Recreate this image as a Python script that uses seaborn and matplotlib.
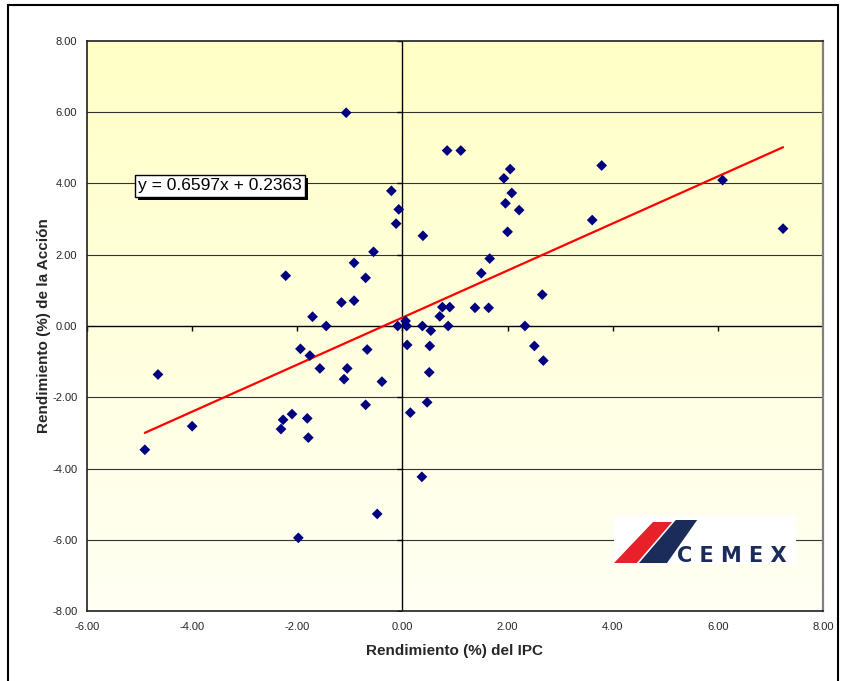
import numpy as np
import pandas as pd
import matplotlib
matplotlib.use("Agg")
import matplotlib.pyplot as plt
from matplotlib.patches import Rectangle, Polygon
from matplotlib.colors import LinearSegmentedColormap
import seaborn as sns

# ---------------- data ----------------
ipc_return = [-1.07, 0.85, 1.11, 3.79, 2.05, 1.93, 6.09, -0.21, 2.08, 1.96,
              -0.07, 2.22, 3.61, -0.12, 7.24, 2.00, 0.39, -0.55, 1.66, -0.92,
              1.50, -2.22, -0.70, 2.66, -0.92, -1.16, 0.76, 0.90, 1.38, 1.64,
              0.71, -1.71, 0.06, -1.45, -0.09, 0.08, 0.38, 0.87, 2.33, 0.54,
              0.09, 0.52, 2.51, -1.94, -0.67, -1.76, 2.68, -1.57, -1.05, 0.51,
              -4.65, -1.11, -0.39, 0.47, -0.70, 0.15, -2.10, -1.81, -2.27, -4.00,
              -2.31, -1.79, 0.37, -4.90, -0.48, -1.98]
stock_return = [5.98, 4.92, 4.92, 4.50, 4.40, 4.14, 4.09, 3.79, 3.73, 3.44,
                3.27, 3.25, 2.97, 2.87, 2.73, 2.64, 2.53, 2.08, 1.89, 1.77,
                1.48, 1.41, 1.35, 0.88, 0.71, 0.66, 0.53, 0.53, 0.51, 0.51,
                0.27, 0.26, 0.14, 0.00, 0.00, 0.00, 0.00, 0.00, 0.00, -0.13,
                -0.53, -0.56, -0.56, -0.64, -0.66, -0.83, -0.97, -1.19, -1.19, -1.30,
                -1.36, -1.49, -1.56, -2.14, -2.21, -2.43, -2.47, -2.59, -2.63, -2.81,
                -2.89, -3.13, -4.23, -3.47, -5.27, -5.94]
slope = 0.6597
intercept = 0.2363
x_ticks = [-6, -4, -2, 0, 2, 4, 6, 8]
y_ticks = [-8, -6, -4, -2, 0, 2, 4, 6, 8]
x_label = "Rendimiento (%) del IPC"
y_label = "Rendimiento (%) de la Acción"
logo_text = "C E M E X"

df = pd.DataFrame({"ipc": ipc_return, "accion": stock_return})

# ---------------- style ----------------
sns.set_theme(style="white")
plt.rcParams["font.family"] = ["Liberation Sans", "DejaVu Sans"]

fig = plt.figure(figsize=(8.45, 6.81), dpi=100)
fig.patch.set_facecolor("white")
ax = fig.add_axes([87 / 845, 69.7 / 681, 736 / 845, 570.6 / 681])

# gradient background of the plot area
cmap = LinearSegmentedColormap.from_list("bg", ["#FFFFF4", "#FFFFC6"])
grad = np.linspace(0, 1, 256).reshape(-1, 1)
ax.imshow(grad, origin="lower", extent=[0, 1, 0, 1], transform=ax.transAxes,
          cmap=cmap, aspect="auto", zorder=0, interpolation="bilinear")

# horizontal gridlines
for yv in y_ticks:
    if yv not in (y_ticks[0], y_ticks[-1], 0):
        ax.axhline(yv, color="#333333", lw=0.8, zorder=1)
ax.axhline(0, color="black", lw=1.0, zorder=2)
ax.axvline(0, color="black", lw=1.0, zorder=2)

# tick marks on the crossing axes
ax.plot(x_ticks, [0] * len(x_ticks), ls="none", marker=3, ms=3.5, mew=1,
        color="black", zorder=2)
ax.plot([0] * len(y_ticks), y_ticks, ls="none", marker=0, ms=3.5, mew=1,
        color="black", zorder=2)

# regression line
xs = np.array([min(ipc_return), max(ipc_return)])
ax.plot(xs, slope * xs + intercept, color="#FF0000", lw=1.6, zorder=3)

# scatter
sns.scatterplot(data=df, x="ipc", y="accion", marker="D", s=30,
                color="#000080", edgecolor="none", ax=ax, zorder=4, legend=False)

ax.set_xlim(x_ticks[0], x_ticks[-1])
ax.set_ylim(y_ticks[0], y_ticks[-1])
ax.set_xticks(x_ticks)
ax.set_yticks(y_ticks)
ax.set_xticklabels([f"{v:.2f}" for v in x_ticks], fontsize=8)
ax.set_yticklabels([f"{v:.2f}" for v in y_ticks], fontsize=8)
ax.tick_params(axis="x", length=0, pad=8)
ax.tick_params(axis="y", length=0, pad=7)

ax.set_xlabel(x_label, fontsize=11, fontweight="bold")
ax.set_ylabel(y_label, fontsize=11, fontweight="bold")
ax.xaxis.set_label_coords(0.5, -0.058)
ax.yaxis.set_label_coords(-0.049, 0.5)

for side in ["left", "top", "bottom"]:
    ax.spines[side].set_color("#202020")
    ax.spines[side].set_linewidth(1.2)
ax.spines["right"].set_color("#808080")
ax.spines["right"].set_linewidth(1.6)

# equation box
eq = f"y = {slope:.4f}x + {intercept:.4f}"
eq_text = ax.text(0.1807, 0.746, eq, transform=ax.transAxes, ha="center", va="center",
                  fontsize=12.5, color="black",
                  bbox=dict(boxstyle="square,pad=0.2", fc="white", ec="black", lw=1),
                  zorder=7)

# CEMEX logo
ax.add_patch(Rectangle((0.716, 0.083), 0.247, 0.084, transform=ax.transAxes,
                       fc="white", ec="none", zorder=6))
ax.add_patch(Polygon([(0.716, 0.0846), (0.747, 0.0846), (0.795, 0.1565), (0.769, 0.1565)],
                     closed=True, transform=ax.transAxes, fc="#E8202A", ec="none", zorder=7))
ax.add_patch(Polygon([(0.750, 0.0846), (0.788, 0.0846), (0.829, 0.160), (0.800, 0.160)],
                     closed=True, transform=ax.transAxes, fc="#1B2C5A", ec="none", zorder=7))
ax.text(0.802, 0.086, logo_text, transform=ax.transAxes, ha="left", va="baseline",
        fontsize=15, fontweight="bold", color="#1B2C5A", family="DejaVu Sans", zorder=8)

# outer chart frame
fig.add_artist(Rectangle((8 / 845, -0.02), (838 - 8) / 845, 676 / 681 + 0.02,
                         transform=fig.transFigure, fill=False, ec="black", lw=1.5))

# drop shadow behind the equation box (a plain patch, offset 3 px)
fig.canvas.draw()
bb = eq_text.get_bbox_patch().get_window_extent()
inv = ax.transAxes.inverted()
(x0, y0), (x1, y1) = inv.transform([(bb.x0 + 3, bb.y0 - 3), (bb.x1 + 3, bb.y1 - 3)])
ax.add_patch(Rectangle((x0, y0), x1 - x0, y1 - y0, transform=ax.transAxes,
                       fc="black", ec="none", zorder=6.5))

fig.savefig("out.png", dpi=100)
